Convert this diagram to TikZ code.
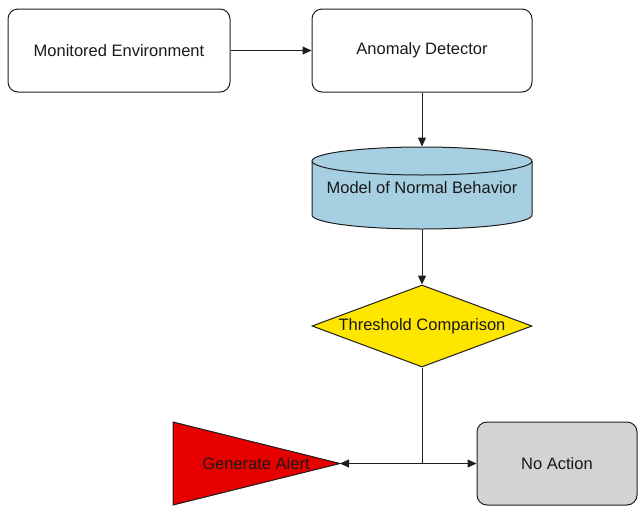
\documentclass[tikz,border=0pt]{standalone}
\usepackage{fontspec}
\setmainfont{Liberation Sans}
\usetikzlibrary{arrows.meta,shapes.geometric}

\definecolor{modelblue}{RGB}{166,207,226}
\definecolor{decisionyellow}{RGB}{255,230,0}
\definecolor{alertred}{RGB}{230,0,0}
\definecolor{idlegray}{RGB}{211,211,211}
\definecolor{linegray}{RGB}{30,30,30}

\begin{document}
\begin{tikzpicture}[x=1pt,y=-1pt,line width=1pt]

\useasboundingbox (0,0) rectangle (638,507);

% model store drawn behind its node
\path[draw=linegray,fill=modelblue] (312,161) -- (312,215)
  arc[start angle=180,end angle=0,x radius=110,y radius=14] -- (532,161);
\path[draw=linegray,fill=modelblue] (422,161) ellipse[x radius=110,y radius=14];

\begin{scope}[every node/.style={draw=linegray,inner sep=0pt,
  font=\fontsize{16.5}{18}\selectfont,text=black!90}]
	\node[rounded corners=10pt,minimum width=222pt,minimum height=83pt] (env) at (119,50.5) {Monitored Environment};
	\node[rounded corners=10pt,minimum width=220pt,minimum height=83pt] (detector) at (422,50.5) {Anomaly Detector};
	\node[draw=none,minimum width=220pt,minimum height=82pt] (model) at (422,188) {Model of Normal Behavior};
	\node[diamond,aspect=2.7,minimum width=220pt,minimum height=82pt,fill=decisionyellow] (threshold) at (422,326) {Threshold Comparison};
	\node[rounded corners=10pt,minimum width=160pt,minimum height=83pt,fill=idlegray] (noaction) at (557,463.5) {No Action};
\end{scope}

% alert triangle
\draw[draw=linegray,fill=alertred] (173,422) -- (340,463.5) -- (173,505) -- cycle;
\coordinate (alert) at (340,463.5);
\node[font=\fontsize{16.5}{18}\selectfont,text=black!90] (alerttext) at (256,463.5) {Generate Alert};
\coordinate (split) at (422,463.5);

\begin{scope}[>={Triangle[length=9pt,width=8pt]},
every edge/.style={draw=linegray}]
	\path [->] (env) edge (detector);
	\path [->] (detector) edge (model);
	\path [->] (model) edge (threshold);
	\path (threshold) edge (split);
	\path [->] (split) edge (alert);
	\path [->] (split) edge (noaction);
\end{scope}

\end{tikzpicture}
\end{document}
